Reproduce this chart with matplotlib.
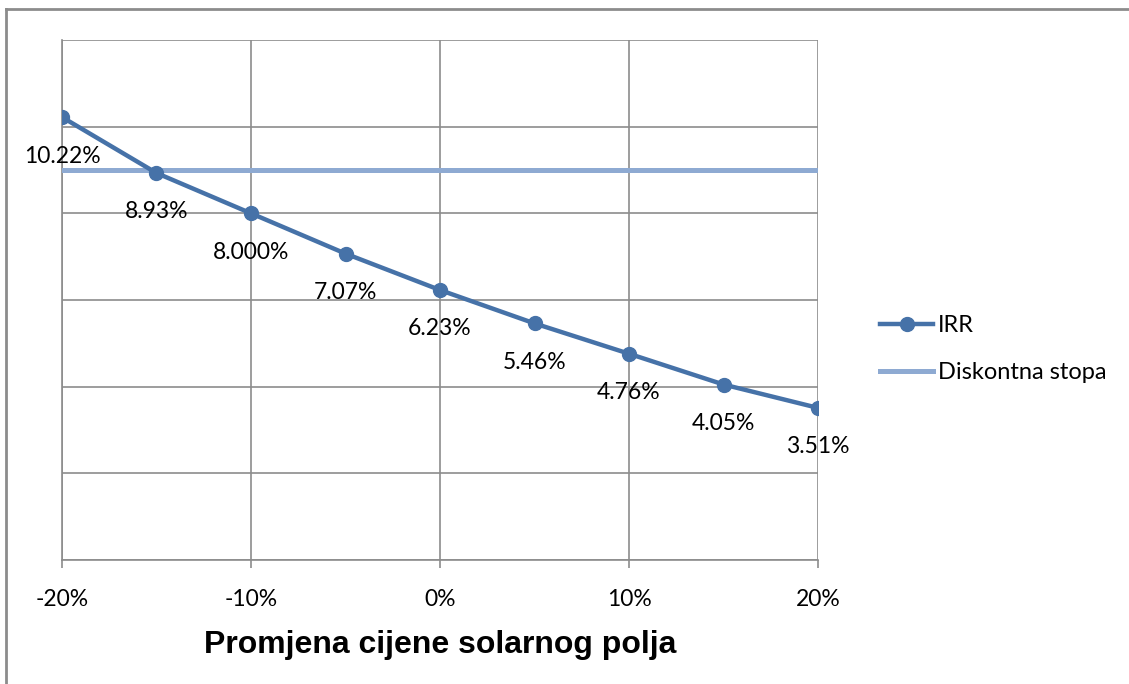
import matplotlib.pyplot as plt
from matplotlib.lines import Line2D
from matplotlib.ticker import FuncFormatter, MultipleLocator

# promjena cijene solarnog polja (%) i IRR (%)
promjena = [-20, -15, -10, -5, 0, 5, 10, 15, 20]
irr = [10.22, 8.93, 8.00, 7.07, 6.23, 5.46, 4.76, 4.05, 3.51]
irr_labels = ["10.22%", "8.93%", "8.000%", "7.07%", "6.23%", "5.46%", "4.76%", "4.05%", "3.51%"]
diskontna_stopa = [9.0] * len(promjena)

blue = "#4672a8"
light_blue = "#8eaad2"
grid_col = "#8c8c8c"

fig = plt.figure(figsize=(11.29, 6.84), dpi=100)
ax = fig.add_axes([62 / 1129, 1 - 560 / 684, (818 - 62) / 1129, (560 - 40) / 684])

ax.plot(promjena, irr, color=blue, lw=3.2, marker="o", ms=10, label="IRR", zorder=4)
ax.plot(promjena, diskontna_stopa, color=light_blue, lw=3.6, label="Diskontna stopa", zorder=3)

for x, y, s in zip(promjena, irr, irr_labels):
    ax.annotate(s, (x, y), xytext=(0, -28), textcoords="offset points",
                ha="center", va="center", fontsize=16.5, family="Lato", zorder=5)

ax.set_xlim(-20, 20)
ax.set_ylim(0, 12)
ax.xaxis.set_major_locator(MultipleLocator(10))
ax.yaxis.set_major_locator(MultipleLocator(2))
ax.xaxis.set_major_formatter(FuncFormatter(lambda v, p: f"{v:.0f}%"))
ax.set_yticklabels([])
ax.tick_params(axis="y", length=0)
ax.tick_params(axis="x", length=6, width=1.2, color=grid_col, labelsize=16.5, pad=15)
for lab in ax.get_xticklabels():
    lab.set_family("Lato")

ax.grid(True, color=grid_col, lw=1.2)
ax.set_axisbelow(True)
for side in ["top", "right"]:
    ax.spines[side].set_visible(False)
for side in ["left", "bottom"]:
    ax.spines[side].set_color(grid_col)
    ax.spines[side].set_linewidth(1.2)

ax.set_xlabel("Promjena cijene solarnog polja", fontsize=23, fontweight="bold",
              family="Liberation Sans", labelpad=14)

leg = ax.legend(loc="upper left", bbox_to_anchor=(880 / 1129, 1 - 315 / 684),
                bbox_transform=fig.transFigure, frameon=False, fontsize=17,
                handlelength=2.25, handletextpad=0.2, labelspacing=1.1,
                borderpad=0, borderaxespad=0)
for t in leg.get_texts():
    t.set_family("Lato")

# okvir grafikona
fig.add_artist(Line2D([6 / 1129, 1], [1 - 9 / 684, 1 - 9 / 684], color="#8c8c8c", lw=2))
fig.add_artist(Line2D([6 / 1129, 6 / 1129], [0, 1 - 9 / 684], color="#8c8c8c", lw=2))

fig.savefig("out.png", dpi=100)
